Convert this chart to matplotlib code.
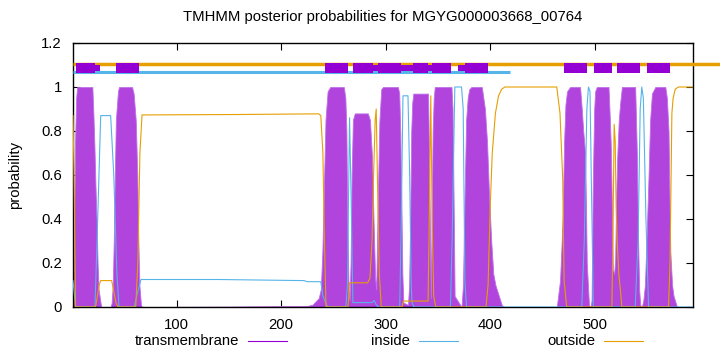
import matplotlib
matplotlib.use("Agg")
from matplotlib import pyplot as plt
from matplotlib.lines import Line2D
import numpy as np

# 序列长度与标题
seq_len = 594
title = "TMHMM posterior probabilities for MGYG000003668_00764"

# 跨膜概率 (残基位置, 概率)
tm_pos = [1, 2, 3, 4, 5, 19.5, 20.5, 21.5, 22.5, 23.5, 24.5, 25.5, 27, 28,
          37, 38, 39, 40, 41, 42, 44, 45, 57.5, 59, 61, 62.5, 63.5, 64.5, 66, 67,
          150, 225, 230, 234, 236, 238, 239.5, 241, 242.5, 244.5, 247, 260, 261.5, 262.5, 263.5, 264.5, 265.5,
          266.5, 267.5, 268.7, 270.5, 283, 285, 287, 288.5, 290, 291, 292.5, 294, 295.8, 297.5,
          311.8, 313, 314, 315, 316, 317, 321.4, 322.5, 323.5, 324.5, 325.5, 326.5, 340.6,
          341.5, 342.5, 343.2, 344, 345, 346, 347, 363, 364, 365, 366, 372.6,
          374, 375.5, 377, 378.5, 380, 382, 392, 395, 397, 399, 401, 403, 405, 407, 409, 411, 413,
          463.7, 465, 466.8, 468, 469.4, 470.7, 472, 473.5, 476.4, 486, 487.6, 489, 490.8, 491.8, 492.4, 493.5, 494.5, 496,
          497, 498.2, 499.5, 500.4, 502, 513.2, 514.5, 515.4, 516.4, 517.3, 518.6, 519.6, 520.5, 521.5, 523, 524.4, 526,
          538.7, 540.3, 541.5, 542.5, 543.5, 545, 546.5, 548, 549.5, 551.5, 553, 554.7, 557.9,
          567.5, 569, 570.6, 571.5, 572.3, 574, 575.4, 578.7, 594]
tm_val = [0.01, 0.3, 0.75, 0.95, 1.0, 1.0, 0.88, 0.73, 0.55, 0.4, 0.2, 0.08, 0.03, 0.0,
          0.0, 0.02, 0.1, 0.3, 0.6, 0.85, 0.98, 1.0, 1.0, 0.97, 0.85, 0.6, 0.3, 0.1, 0.01, 0.0,
          0.002, 0.005, 0.01, 0.03, 0.04, 0.08, 0.25, 0.55, 0.85, 0.98, 1.0, 1.0, 0.95, 0.8, 0.35, 0.08, 0.03,
          0.2, 0.6, 0.85, 0.88, 0.88, 0.85, 0.68, 0.38, 0.13, 0.08, 0.48, 0.84, 0.99, 1.0,
          1.0, 0.97, 0.8, 0.5, 0.15, 0.02, 0.01, 0.1, 0.4, 0.8, 0.93, 0.97, 0.97,
          0.7, 0.3, 0.04, 0.4, 0.8, 0.95, 1.0, 1.0, 0.9, 0.5, 0.05, 0.0,
          0.1, 0.5, 0.85, 0.95, 0.99, 1.0, 1.0, 0.9, 0.75, 0.5, 0.3, 0.15, 0.1, 0.07, 0.04, 0.01, 0.0,
          0.0, 0.05, 0.12, 0.25, 0.42, 0.75, 0.92, 0.98, 1.0, 1.0, 0.9, 0.8, 0.7, 0.4, 0.2, 0.1, 0.01, 0.0,
          0.03, 0.58, 0.9, 0.98, 1.0, 1.0, 0.85, 0.73, 0.45, 0.17, 0.15, 0.22, 0.5, 0.68, 0.85, 0.93, 1.0,
          1.0, 0.7, 0.3, 0.08, 0.01, 0.0, 0.03, 0.1, 0.3, 0.6, 0.85, 0.97, 1.0,
          1.0, 0.95, 0.8, 0.5, 0.25, 0.1, 0.05, 0.0, 0.0]

# 膜内概率
in_pos = [1, 3.5, 22, 24, 27.5, 37, 40, 43, 45, 59.5, 62, 66, 140, 222, 225, 238, 240, 244.5,
          262, 263.5, 265.5, 267, 268.7, 287, 289, 291, 293, 313.5, 315, 316.6, 321.4, 323, 324.5, 325.3, 327,
          362, 363.6, 366.2, 372.6, 374.2, 375.8, 377.4, 487.6, 490, 492.5, 494, 495.5, 497, 498.7,
          538.7, 541.5, 543.5, 545, 546.5, 549, 551.5, 594]
in_val = [0.12, 0.0, 0.0, 0.3, 0.87, 0.87, 0.6, 0.15, 0.0, 0.0, 0.05, 0.125, 0.125, 0.12, 0.115, 0.115, 0.05, 0.0,
          0.0, 0.1, 0.86, 0.5, 0.02, 0.02, 0.03, 0.01, 0.0, 0.0, 0.4, 0.96, 0.96, 0.6, 0.1, 0.02, 0.0,
          0.0, 0.3, 1.0, 1.0, 0.9, 0.12, 0.0, 0.0, 0.3, 0.9, 1.0, 0.98, 0.5, 0.0,
          0.0, 0.3, 0.9, 1.0, 0.95, 0.4, 0.0, 0.0]

# 膜外概率
out_pos = [1, 2, 3.5, 22.5, 24, 26, 27.5, 38, 40, 42, 44, 61, 63, 65, 67, 160, 236, 238, 240, 241.5, 243,
           264, 265.5, 282.8, 285, 287, 288.5, 290, 291, 292.5, 294, 295.8, 315.7, 317, 340.6, 341.5, 343.2, 344.5, 346, 348,
           396, 398, 400, 402, 405, 408, 411, 414, 463.7, 466.8, 469.4, 470.7, 473.2,
           516.4, 517.5, 518.6, 519.6, 520.5, 521.5, 523, 524.5, 526, 570.6, 572, 573.8, 575, 577, 580, 594]
out_val = [0.87, 0.6, 0.0, 0.0, 0.04, 0.1, 0.12, 0.12, 0.07, 0.02, 0.0, 0.0, 0.2, 0.7, 0.873, 0.875, 0.878, 0.87, 0.7, 0.3, 0.0,
           0.0, 0.11, 0.11, 0.13, 0.3, 0.6, 0.85, 0.9, 0.5, 0.15, 0.0, 0.0, 0.027, 0.027, 0.3, 0.96, 0.4, 0.05, 0.0,
           0.0, 0.1, 0.45, 0.7, 0.88, 0.96, 0.99, 1.0, 1.0, 0.88, 0.58, 0.12, 0.0,
           0.0, 0.35, 0.83, 0.75, 0.45, 0.3, 0.15, 0.08, 0.0, 0.0, 0.2, 0.88, 0.95, 0.99, 1.0, 1.0]

# 顶部预测拓扑: 跨膜片段 (起, 止), 以及较窄的连接片段
tm_seg_start = [4.2, 42.5, 241.6, 268.7, 292.7, 326.2, 343.9, 375.8, 470.7, 499.4, 521.2, 549.9]
tm_seg_end = [21.8, 64.3, 263.9, 287.9, 315.1, 340.6, 363.0, 398.1, 492.4, 516.4, 543.5, 572.3]
thin_seg_start = [21.8, 287.9, 315.1, 340.6, 369.3]
thin_seg_end = [26.6, 292.7, 326.2, 343.9, 375.8]
inside_end = 419
outside_end = 620

purple = "#9400d3"
tm_fill = "#b044dd"
blue = "#56b4e9"
orange = "#e69f00"

plt.rcParams["font.family"] = ["Liberation Sans", "DejaVu Sans"]
plt.rcParams["font.size"] = 10.7

fig = plt.figure(figsize=(7.2, 3.52), dpi=100)
ax = fig.add_axes([73 / 720, 45 / 352, 620 / 720, 264 / 352])

ax.fill_between(tm_pos, tm_val, 0, color=tm_fill, lw=0.6, edgecolor="#c070e8", zorder=2)
ax.plot(in_pos, in_val, color=blue, lw=0.8, zorder=3)
ax.plot(out_pos, out_val, color=orange, lw=0.8, zorder=3)

# 顶部拓扑线
ax.plot([1, outside_end], [1.105, 1.105], color=orange, lw=2.5, clip_on=False, zorder=4, solid_capstyle="butt")
ax.plot([1, inside_end], [1.066, 1.066], color=blue, lw=2.2, zorder=4, solid_capstyle="butt")
segs = [(s, e - s) for s, e in zip(tm_seg_start, tm_seg_end)]
ax.broken_barh(segs, (1.063, 0.047), facecolors=purple, lw=0, zorder=5)
thin = [(s, e - s) for s, e in zip(thin_seg_start, thin_seg_end)]
ax.broken_barh(thin, (1.071, 0.028), facecolors=purple, lw=0, zorder=5)

ax.set_xlim(1, seq_len)
ax.set_ylim(0, 1.2)
ax.set_xticks([100, 200, 300, 400, 500])
ax.set_yticks([0, 0.2, 0.4, 0.6, 0.8, 1.0, 1.2])
ax.set_yticklabels(["0", "0.2", "0.4", "0.6", "0.8", "1", "1.2"])
ax.tick_params(direction="in", length=5, top=True, right=True, width=0.8, pad=8)
for s in ax.spines.values():
    s.set_linewidth(1.0)

ax.set_ylabel("probability", labelpad=14)
ax.set_title(title, fontsize=10.7, pad=16)

# 图例 (gnuplot 风格: 文字在左, 线在右)
legend_items = [("transmembrane", purple, 239), ("inside", blue, 410), ("outside", orange, 595)]
for label, color, xr in legend_items:
    fig.text(xr / 720, 1 - 341 / 352, label, ha="right", va="center", fontsize=10.7)
    fig.add_artist(Line2D([(xr + 9) / 720, (xr + 48) / 720], [1 - 341 / 352, 1 - 341 / 352],
                          color=color, lw=0.8, transform=fig.transFigure))

fig.savefig("out.png", dpi=100)
